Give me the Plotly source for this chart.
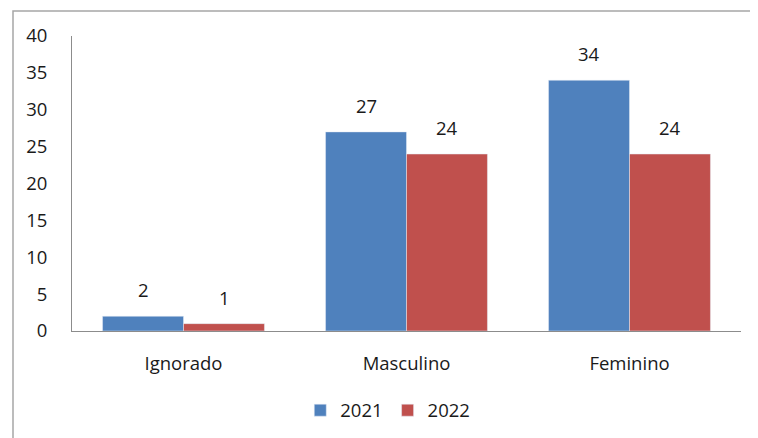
import plotly.graph_objects as go

categories = ["Ignorado", "Masculino", "Feminino"]
values_2021 = [2, 27, 34]
values_2022 = [1, 24, 24]
series_names = ["2021", "2022"]
colors = ["#4F81BD", "#C0504D"]

font_family = "Open Sans"
txt_color = "#1a1a1a"
FS = 18.5

fig = go.Figure()
for name, vals, col in zip(series_names, [values_2021, values_2022], colors):
    fig.add_trace(go.Bar(x=categories, y=vals, name=name, marker_color=col))

# data labels placed above each bar (offset within the group)
annotations = []
for i, vals in enumerate([values_2021, values_2022]):
    for c, v in zip(categories, vals):
        annotations.append(dict(x=c, y=v, xref="x", yref="y", text=str(v),
                                showarrow=False, yanchor="bottom", yshift=12,
                                xshift=(i - 0.5) * 81,
                                font=dict(size=FS, color=txt_color)))

# body margin of 8px in the page: shift everything by -8
W, H = 750, 430
fig.update_layout(
    width=W, height=H,
    margin=dict(l=64, r=17, t=28, b=107, autoexpand=False),
    paper_bgcolor="white", plot_bgcolor="white",
    barmode="group", bargap=0.274, bargroupgap=0,
    font=dict(family=font_family, size=FS, color=txt_color),
    showlegend=True,
    legend=dict(orientation="h", x=0.472, xanchor="center", y=-0.27, yanchor="middle",
                font=dict(size=FS), itemwidth=30, traceorder="normal"),
    xaxis=dict(showline=True, linecolor="#8c8c8c", linewidth=1, showgrid=False,
               ticks="", ticklabelstandoff=16, tickfont=dict(size=FS)),
    yaxis=dict(range=[0, 40], dtick=5, showline=True, linecolor="#8c8c8c", linewidth=1,
               showgrid=False, ticks="", ticklabelstandoff=20, zeroline=False,
               tickfont=dict(size=FS)),
    annotations=annotations,
    shapes=[dict(type="rect", xref="paper", yref="paper",
                 x0=(13 - 72) / 669, x1=(775 - 72) / 669,
                 y0=(331 - 460) / 295, y1=(331 - 11) / 295,
                 line=dict(color="#a6a6a6", width=1.5), fillcolor="rgba(0,0,0,0)",
                 layer="below")],
)

fig.write_html("out.html")
